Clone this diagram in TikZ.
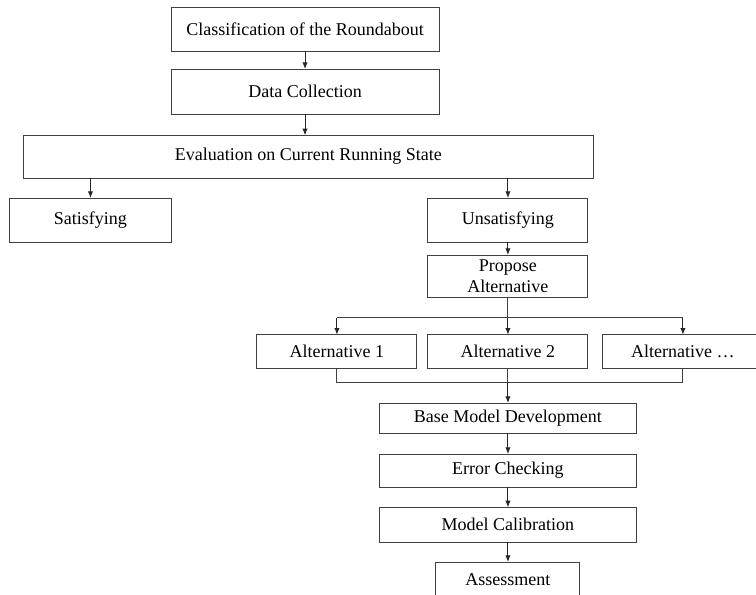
\documentclass[tikz,border=0pt]{standalone}
\usepackage{fontspec}
\setmainfont{Liberation Serif}
\usetikzlibrary{positioning,arrows.meta}

\begin{document}
\begin{tikzpicture}[
    >={Latex[length=5pt,width=4pt]},
    line width=0.7pt,
    box/.style={rectangle, draw=black!75, minimum width=120pt, inner xsep=2pt, inner ysep=1pt, outer sep=0pt, align=center, font=\fontsize{13.5pt}{15.5pt}\selectfont},
    wide/.style={box, minimum width=193pt}
]
\useasboundingbox (0,0) rectangle (567pt,-445.5pt);

% Current state
\node[box, minimum width=201pt, minimum height=33pt] (cls) at (228.75pt,-21.75pt) {Classification of the Roundabout};
\node[box, minimum width=201pt, minimum height=34pt, below=13.5pt of cls] (data) {Data Collection};
\node[box, minimum width=428pt, minimum height=32pt, below=15.75pt of data, xshift=2.6pt] (eval) {Evaluation on Current Running State};
\node[box, minimum width=121pt, minimum height=33pt, below=15pt of eval, xshift=-163.5pt] (sat) {Satisfying};
\node[box, minimum height=33pt, below=15pt of eval, xshift=149.6pt] (unsat) {Unsatisfying};
\node[box, minimum height=32pt, below=9.75pt of unsat] (prop) {Propose\\Alternative};

% Alternatives
\node[box, minimum height=25pt, below=27.75pt of prop] (alt2) {Alternative 2};
\node[box, minimum height=25pt, left=8.25pt of alt2] (alt1) {Alternative 1};
\node[box, minimum height=25pt, right=11.25pt of alt2] (altn) {Alternative …};
\path (prop.south) ++(0,-15pt) coordinate (split);
\path (alt2.south) ++(0,-10.5pt) coordinate (join);

% Modelling
\node[wide, minimum height=22.5pt, below=26.25pt of alt2] (base) {Base Model Development};
\node[wide, minimum height=25pt, below=15.75pt of base] (err) {Error Checking};
\node[wide, minimum height=26pt, below=15pt of err] (calib) {Model Calibration};
\node[box, minimum width=108pt, minimum height=27pt, below=15pt of calib] (assess) {Assessment};

% Arrows
\draw[->, black!85] (cls) -- (data);
\draw[->, black!85] (data.south) -- (data.south |- eval.north);
\draw[->, black!85] (eval.south -| sat.north) -- (sat.north);
\draw[->, black!85] (eval.south -| unsat.north) -- (unsat.north);
\draw[->, black!85] (unsat) -- (prop);
\draw[black!75] (prop.south) -- (split);
\draw[black!75] (split -| alt1.north) -- (split -| altn.north);
\draw[->, black!85] (split -| alt1.north) -- (alt1.north);
\draw[->, black!85] (split) -- (alt2.north);
\draw[->, black!85] (split -| altn.north) -- (altn.north);
\draw[black!75] (alt1.south) -- (join -| alt1.south) -- (join -| altn.south) -- (altn.south);
\draw[black!75] (alt2.south) -- (join);
\draw[->, black!85] (join) -- (base.north);
\draw[->, black!85] (base) -- (err);
\draw[->, black!85] (err) -- (calib);
\draw[->, black!85] (calib) -- (assess);
\end{tikzpicture}
\end{document}
